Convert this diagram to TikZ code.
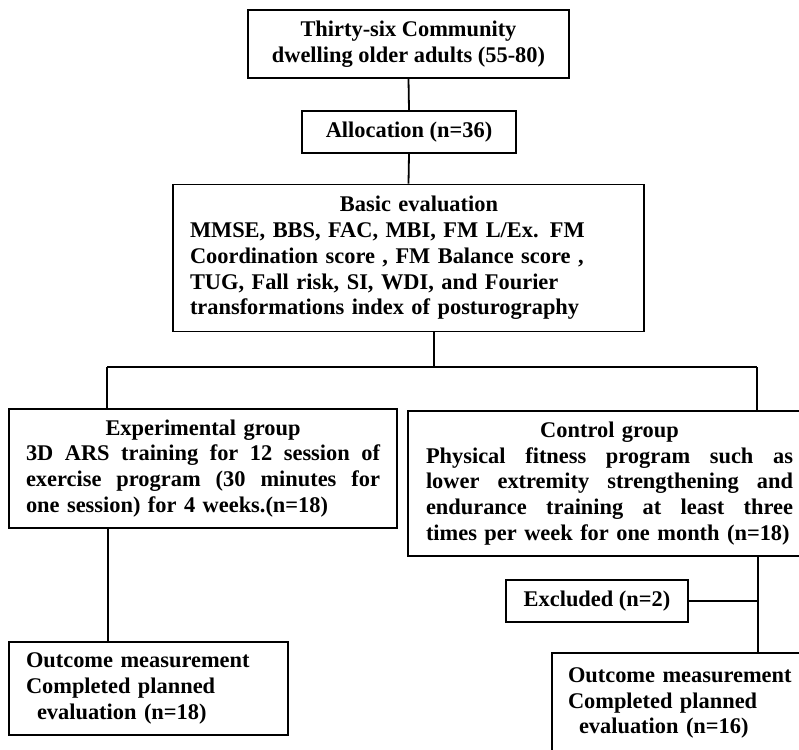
\documentclass[tikz,border=0pt]{standalone}
\usepackage{fontspec}
\setmainfont{Liberation Serif}
\newcommand{\jline}[2]{{\spaceskip=0pt\xspaceskip=0pt\makebox[#1][s]{#2}}}
\begin{document}
\begin{tikzpicture}[x=1pt,y=-1pt,
  box/.style={draw,line width=1.8pt,inner sep=0pt,font=\fontsize{22.4}{25.8}\selectfont\bfseries},
  conn/.style={line width=1.8pt}]
\clip (0,0) rectangle (799,749);
\fill[white] (0,0) rectangle (799,749);
\node[box,minimum width=321pt,minimum height=68pt,align=center] (b1) at (408.5,44)
  {Thirty-six Community\\dwelling older adults (55-80)};
\node[box,minimum width=214pt,minimum height=42pt] (alloc) at (409,132) {Allocation (n=36)};
\node[box,minimum width=471pt,minimum height=147pt,text width=437pt,align=left] (basic) at (408.5,258)
  {\makebox[437pt]{\hspace{21pt}Basic evaluation}\\
   MMSE, BBS, FAC, MBI, FM L/Ex. FM\\
   Coordination score , FM Balance score ,\\
   TUG, Fall risk, SI, WDI, and Fourier\\
   transformations index of posturography};
\node[box,minimum width=388pt,minimum height=119pt,text width=354pt,align=left] (exp) at (203,468.5)
  {\makebox[354pt]{Experimental group}\\
   \jline{354pt}{3D ARS training for 12 session of}\\
   \jline{354pt}{exercise program (30 minutes for}\\
   one session) for 4 weeks.(n=18)};
\node[box,minimum width=403pt,minimum height=145pt,text width=367pt,align=left] (ctrl) at (609.5,483.5)
  {\makebox[367pt]{Control group}\\
   \jline{367pt}{Physical fitness program such as}\\
   \jline{367pt}{lower extremity strengthening and}\\
   \jline{367pt}{endurance training at least three}\\
   times per week for one month (n=18)};
\node[box,minimum width=182pt,minimum height=42pt] (excl) at (597,601) {Excluded (n=2)};
\node[box,minimum width=279pt,minimum height=93pt,text width=245pt,align=left] (outL) at (148.5,688.5)
  {Outcome measurement\\Completed planned\\\hspace*{11pt}evaluation (n=18)};
\node[box,minimum width=258pt,minimum height=100pt,text width=226pt,align=left] (outR) at (681,703)
  {Outcome measurement\\Completed planned\\\hspace*{11pt}evaluation (n=16)};
\coordinate (split) at (434,367);
\coordinate (hlL) at (107,367);
\coordinate (hlR) at (757,367);
\coordinate (ex) at (108,600);
\coordinate (cx) at (758,600);
\draw[conn] (b1.south) -- (alloc.north);
\draw[conn] (alloc.south) -- (basic.north);
\draw[conn] (basic.south -| split) -- (split);
\draw[conn] (hlL) -- (hlR);
\draw[conn] (hlL) -- (exp.north -| hlL);
\draw[conn] (hlR) -- (ctrl.north -| hlR);
\draw[conn] (exp.south -| ex) -- (outL.north -| ex);
\draw[conn] (ctrl.south -| cx) -- (outR.north -| cx);
\draw[conn] (excl.east) -- (excl.east -| cx);
\end{tikzpicture}
\end{document}
